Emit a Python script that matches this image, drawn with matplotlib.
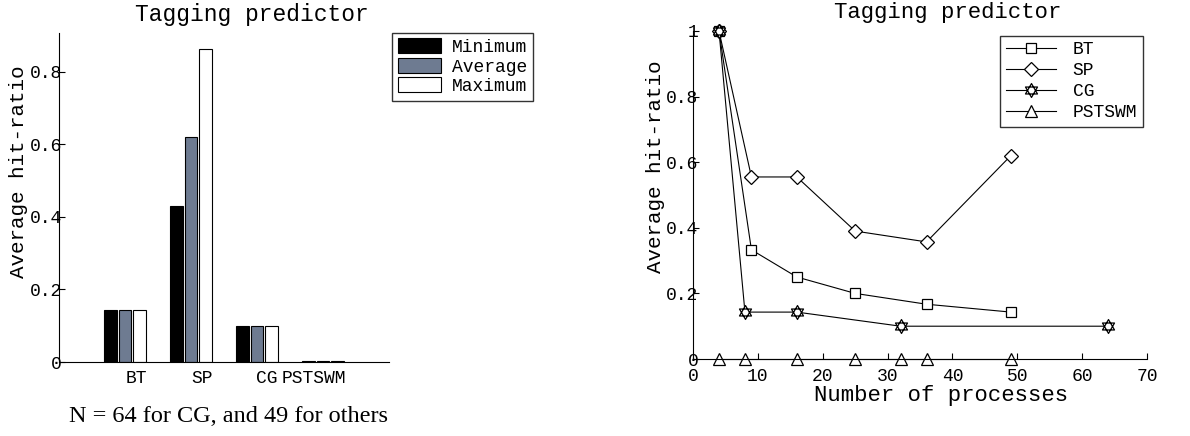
import numpy as np
import matplotlib
matplotlib.use("Agg")
import matplotlib.pyplot as plt
from matplotlib.path import Path


# left panel: bar chart, N = 64 for CG, 49 for others
benchmarks = ["BT", "SP", "CG", "PSTSWM"]
hit_min = [0.143, 0.431, 0.099, 0.002]
hit_avg = [0.143, 0.621, 0.099, 0.003]
hit_max = [0.143, 0.862, 0.099, 0.002]
bar_labels = ["Minimum", "Average", "Maximum"]

# right panel: average hit-ratio vs number of processes
bt_procs = [4, 9, 16, 25, 36, 49]
bt_hit = [1.0, 0.333, 0.25, 0.2, 0.167, 0.143]
sp_procs = [4, 9, 16, 25, 36, 49]
sp_hit = [1.0, 0.555, 0.555, 0.39, 0.357, 0.62]
cg_procs = [4, 8, 16, 32, 64]
cg_hit = [1.0, 0.143, 0.143, 0.1, 0.1]
pst_procs = [4, 8, 16, 25, 32, 36, 49]
pst_hit = [0, 0, 0, 0, 0, 0, 0]

MONO = "Liberation Mono"
SERIF = "Liberation Serif"


def hexagram():
    """Star of David made of two triangles."""
    a = np.deg2rad([90, 210, 330])
    b = np.deg2rad([270, 30, 150])
    up = list(zip(np.cos(a), np.sin(a)))
    down = list(zip(np.cos(b), np.sin(b)))
    verts = up + [up[0]] + down + [down[0]]
    codes = [Path.MOVETO, Path.LINETO, Path.LINETO, Path.CLOSEPOLY] * 2
    return Path(verts, codes)


def style_axes(ax, pad_y):
    ax.spines["top"].set_visible(False)
    ax.spines["right"].set_visible(False)
    ax.tick_params(direction="in", labelsize=13, length=4)
    ax.tick_params(axis="y", pad=pad_y)
    for lbl in ax.get_xticklabels() + ax.get_yticklabels():
        lbl.set_fontfamily(MONO)


fig = plt.figure(figsize=(11.9, 4.36), dpi=100)

# ---- bar chart ----
ax1 = fig.add_axes([0.0496, 0.1697, 0.2773, 0.7546])
x = np.arange(1, len(benchmarks) + 1)
w = 0.19
ax1.bar(x - 0.22, hit_min, w, color="black", edgecolor="black", linewidth=0.8, label=bar_labels[0])
ax1.bar(x, hit_avg, w, color="#6e7b91", edgecolor="black", linewidth=0.8, label=bar_labels[1])
ax1.bar(x + 0.22, hit_max, w, color="white", edgecolor="black", linewidth=0.8, label=bar_labels[2])
ax1.set_xlim(0, 5)
ax1.set_ylim(0, 0.907)
ax1.set_yticks([0, 0.2, 0.4, 0.6, 0.8])
ax1.set_yticklabels(["0", "0.2", "0.4", "0.6", "0.8"])
ax1.set_xticks([1.17, 2.17, 3.14, 3.86])
ax1.set_xticklabels(benchmarks)
style_axes(ax1, -2)
ax1.tick_params(axis="x", length=0, pad=6)
ax1.set_ylabel("Average hit-ratio", fontsize=15, family=MONO)
ax1.yaxis.set_label_coords(-0.094, 0.578)
ax1.text(0.583, 1.055, "Tagging predictor", transform=ax1.transAxes,
         ha="center", va="center", fontsize=16.5, family=MONO)
ax1.legend(loc="upper left", bbox_to_anchor=(1.01, 1.0), frameon=True, fancybox=False,
           edgecolor="black", prop={"family": MONO, "size": 13},
           handlelength=2.4, handleheight=0.9, borderpad=0.3, labelspacing=0.1,
           handletextpad=0.6, borderaxespad=0.0)
fig.text(0.192, 0.044, "N = 64 for CG, and 49 for others", ha="center", va="center",
         fontsize=17.5, family=SERIF)

# ---- line chart ----
ax2 = fig.add_axes([0.5824, 0.1766, 0.3815, 0.7523])
mk = dict(color="black", linewidth=0.8, markerfacecolor="white",
          markeredgecolor="black", markeredgewidth=0.9, clip_on=False)
ax2.plot(bt_procs, bt_hit, marker="s", markersize=7, label="BT", **mk)
ax2.plot(sp_procs, sp_hit, marker="D", markersize=7.5, label="SP", **mk)
ax2.plot(cg_procs, cg_hit, marker=hexagram(), markersize=10, label="CG", **mk)
ax2.plot(pst_procs, pst_hit, marker="^", markersize=9, label="PSTSWM", **mk)
ax2.set_xlim(0, 70)
ax2.set_ylim(0, 1)
ax2.set_xticks(range(0, 71, 10))
ax2.set_yticks([0, 0.2, 0.4, 0.6, 0.8, 1.0])
ax2.set_yticklabels(["0", "0.2", "0.4", "0.6", "0.8", "1"])
style_axes(ax2, -4)
ax2.tick_params(axis="x", pad=6.5)
ax2.set_ylabel("Average hit-ratio", fontsize=15, family=MONO)
ax2.yaxis.set_label_coords(-0.062, 0.585)
ax2.set_xlabel("Number of processes", fontsize=16, family=MONO)
ax2.xaxis.set_label_coords(0.546, -0.078)
ax2.text(0.56, 1.055, "Tagging predictor", transform=ax2.transAxes,
         ha="center", va="center", fontsize=16, family=MONO)
ax2.legend(loc="upper right", bbox_to_anchor=(0.99, 0.985), frameon=True, fancybox=False,
           edgecolor="black", prop={"family": MONO, "size": 13},
           handlelength=2.8, borderpad=0.3, labelspacing=0.22,
           handletextpad=0.9, borderaxespad=0.0)

fig.savefig("out.png", dpi=100)
